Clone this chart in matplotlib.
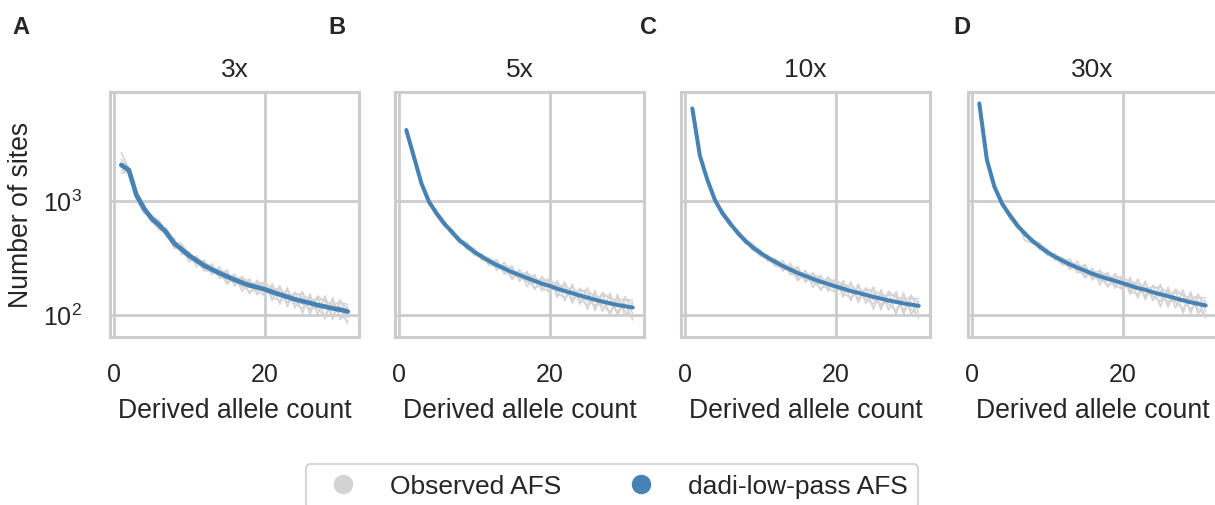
import numpy as np
import matplotlib
matplotlib.use('Agg')
import matplotlib.pyplot as plt
import seaborn as sns
from matplotlib.lines import Line2D

######################### Data ###############################################
counts = np.arange(1, 32)
coverages = ['3x', '5x', '10x', '30x']
panel_labels = ['A', 'B', 'C', 'D']

# dadi-low-pass model AFS per coverage
model_3x = [2065, 1866, 1128, 863, 705, 617, 528, 426, 378, 333, 301, 272, 252, 234, 219, 205,
            193, 183, 176, 169, 160, 152, 145, 138, 133, 128, 123, 119, 115, 112, 108]
model_5x = [4178, 2444, 1428, 987, 780, 638, 540, 456, 404, 360, 326, 298, 275, 256, 239, 225,
            212, 200, 189, 181, 171, 163, 156, 149, 143, 137, 132, 127, 123, 120, 117]
model_10x = [6456, 2500, 1527, 1020, 780, 638, 529, 450, 393, 353, 319, 293, 270, 251, 234, 221,
             208, 197, 188, 179, 171, 163, 157, 151, 145, 140, 135, 131, 127, 124, 121]
model_30x = [7145, 2300, 1335, 954, 756, 617, 521, 450, 399, 358, 326, 301, 279, 261, 246, 231,
             219, 209, 200, 191, 182, 173, 167, 159, 153, 147, 141, 135, 130, 126, 122]

# observed AFS replicates per coverage
obs_3x = [
    [2313, 1941, 1038, 777, 761, 580, 581, 383, 408, 293, 331, 250, 282, 211, 250, 180,
     220, 154, 204, 145, 189, 125, 174, 116, 162, 102, 145, 93, 143, 92, 119],
    [1859, 1773, 1218, 949, 649, 666, 486, 477, 340, 360, 265, 305, 227, 267, 193, 230,
     162, 209, 151, 199, 134, 182, 119, 160, 104, 154, 101, 148, 92, 137, 95],
    [2168, 1903, 1162, 828, 747, 679, 507, 400, 393, 353, 283, 283, 232, 248, 237, 185,
     205, 201, 162, 149, 176, 161, 128, 157, 144, 110, 148, 131, 97, 128, 125],
    [1982, 1829, 1094, 906, 670, 555, 560, 447, 355, 320, 319, 256, 267, 215, 206, 226,
     178, 176, 197, 183, 144, 134, 165, 127, 114, 143, 113, 100, 133, 101, 89],
    [2650, 1922, 1072, 889, 726, 642, 486, 439, 423, 340, 313, 294, 262, 248, 188, 213,
     212, 194, 187, 193, 170, 170, 151, 152, 154, 136, 138, 136, 122, 132, 114],
    [1750, 1810, 1184, 837, 691, 592, 544, 417, 363, 306, 295, 245, 244, 225, 223, 193,
     185, 161, 169, 176, 150, 155, 131, 144, 125, 115, 118, 124, 101, 119, 84],
]
obs_5x = [
    [4345, 2493, 1385, 928, 819, 606, 572, 429, 424, 335, 346, 283, 308, 230, 272, 198,
     242, 168, 219, 156, 202, 134, 187, 125, 174, 110, 156, 99, 153, 98, 129],
    [4053, 2395, 1471, 1046, 741, 670, 508, 483, 380, 378, 303, 316, 248, 292, 210, 252,
     178, 228, 163, 214, 144, 196, 128, 173, 112, 164, 108, 157, 98, 146, 103],
    [4220, 2468, 1457, 948, 827, 676, 518, 433, 420, 382, 310, 310, 253, 271, 258, 203,
     225, 220, 174, 159, 188, 173, 137, 170, 154, 118, 158, 140, 103, 137, 136],
    [4136, 2420, 1414, 1026, 749, 600, 567, 474, 384, 349, 342, 283, 292, 236, 225, 248,
     195, 192, 212, 195, 154, 143, 178, 137, 123, 153, 121, 107, 143, 108, 96],
    [4262, 2444, 1414, 1007, 803, 657, 513, 465, 436, 367, 336, 316, 286, 271, 206, 234,
     233, 212, 200, 206, 181, 183, 162, 164, 166, 145, 148, 145, 130, 142, 124],
    [4094, 2420, 1442, 967, 764, 619, 551, 447, 392, 338, 319, 274, 267, 246, 244, 212,
     204, 176, 181, 188, 161, 166, 140, 155, 134, 123, 127, 132, 108, 127, 91],
]
obs_10x = [
    [6521, 2525, 1512, 959, 819, 606, 561, 423, 413, 328, 338, 278, 302, 226, 267, 194,
     237, 165, 218, 154, 202, 134, 188, 127, 177, 112, 159, 102, 157, 102, 133],
    [6391, 2475, 1542, 1081, 741, 670, 497, 477, 369, 371, 297, 311, 243, 286, 206, 248,
     175, 225, 162, 211, 144, 196, 129, 175, 113, 168, 111, 162, 102, 151, 106],
    [6480, 2510, 1540, 979, 827, 676, 508, 428, 409, 374, 303, 305, 248, 266, 253, 199,
     220, 217, 173, 158, 188, 173, 138, 172, 157, 120, 162, 144, 107, 141, 140],
    [6424, 2488, 1519, 1061, 749, 600, 555, 468, 373, 342, 335, 278, 286, 231, 220, 243,
     191, 189, 211, 193, 154, 143, 179, 139, 125, 157, 124, 110, 147, 112, 99],
    [6470, 2500, 1520, 1040, 803, 657, 503, 459, 424, 360, 329, 311, 281, 266, 201, 230,
     229, 209, 199, 204, 181, 183, 163, 166, 168, 148, 151, 149, 135, 146, 128],
    [6440, 2490, 1530, 1000, 764, 619, 540, 441, 381, 332, 313, 270, 262, 241, 239, 208,
     200, 173, 180, 186, 161, 166, 141, 157, 136, 126, 130, 136, 112, 131, 94],
]
obs_30x = [
    [7216, 2323, 1322, 897, 794, 586, 552, 423, 419, 333, 346, 286, 312, 235, 280, 203,
     250, 176, 232, 164, 215, 142, 200, 134, 187, 118, 166, 105, 161, 103, 134],
    [7074, 2277, 1348, 1011, 718, 648, 490, 477, 375, 376, 303, 319, 251, 298, 216, 259,
     184, 238, 172, 225, 153, 208, 137, 184, 119, 176, 116, 167, 104, 154, 107],
    [7180, 2310, 1345, 916, 801, 654, 455, 428, 415, 379, 310, 313, 257, 277, 266, 208,
     232, 230, 184, 168, 200, 183, 147, 181, 165, 126, 169, 149, 109, 144, 142],
    [7110, 2290, 1328, 992, 726, 580, 547, 468, 379, 347, 342, 286, 296, 240, 231, 254,
     201, 201, 224, 206, 164, 152, 190, 146, 132, 165, 130, 113, 151, 113, 100],
    [7160, 2300, 1330, 973, 779, 636, 495, 459, 431, 365, 336, 319, 290, 277, 212, 240,
     241, 222, 212, 218, 193, 194, 174, 175, 177, 156, 158, 154, 138, 149, 129],
    [7130, 2295, 1340, 935, 741, 598, 531, 441, 387, 337, 319, 277, 271, 251, 251, 217,
     210, 184, 192, 199, 171, 176, 150, 165, 144, 132, 135, 140, 114, 134, 95],
]

models = [model_3x, model_5x, model_10x, model_30x]
observed = [obs_3x, obs_5x, obs_10x, obs_30x]

######################### Plot ###############################################
sns.set_theme(style='whitegrid', context='talk')
plt.rcParams['font.family'] = ['Liberation Sans', 'DejaVu Sans']
plt.rcParams.update({'axes.labelsize': 19.2, 'axes.titlesize': 19,
                     'xtick.labelsize': 18, 'ytick.labelsize': 18,
                     'legend.fontsize': 19, 'grid.linewidth': 2.0,
                     'axes.linewidth': 2.2})

W, H = 1215, 505
fig = plt.figure(figsize=(W / 100, H / 100), dpi=100)

lefts = [110, 395, 681, 968]      # axes left edges, px
letter_x = [12, 328, 640, 953]    # panel letter positions, px
axes = []
for i, left in enumerate(lefts):
    ax = fig.add_axes([left / W, (H - 337) / H, 249 / W, 245 / H],
                      sharey=axes[0] if axes else None)
    for rep in observed[i]:
        ax.plot(counts, rep, color='lightgray', lw=1.1)
    ax.plot(counts, models[i], color='steelblue', lw=3.4 if i == 0 else 2.9)
    ax.set_yscale('log')
    ax.set_ylim(64.6, 9000)
    ax.set_xticks([0, 20])
    ax.tick_params(axis='x', pad=9.5)
    ax.tick_params(axis='y', pad=11)
    ax.set_xlabel('Derived allele count', labelpad=8)
    ax.set_title(coverages[i], pad=11)
    if i == 0:
        ax.set_ylabel('Number of sites', labelpad=6.5)
    else:
        ax.tick_params(labelleft=False)
    fig.text(letter_x[i] / W, 1 - 27 / H, panel_labels[i], fontweight='bold',
             fontsize=17, ha='left', va='center')
    axes.append(ax)

handles = [Line2D([], [], marker='o', ls='', color='lightgray', markersize=13),
           Line2D([], [], marker='o', ls='', color='steelblue', markersize=13)]
fig.legend(handles, ['Observed AFS', 'dadi-low-pass AFS'], loc='upper center',
           bbox_to_anchor=(612 / W, 1 - 464 / H), ncol=2, borderaxespad=0)

fig.savefig('out.png', dpi=100)
